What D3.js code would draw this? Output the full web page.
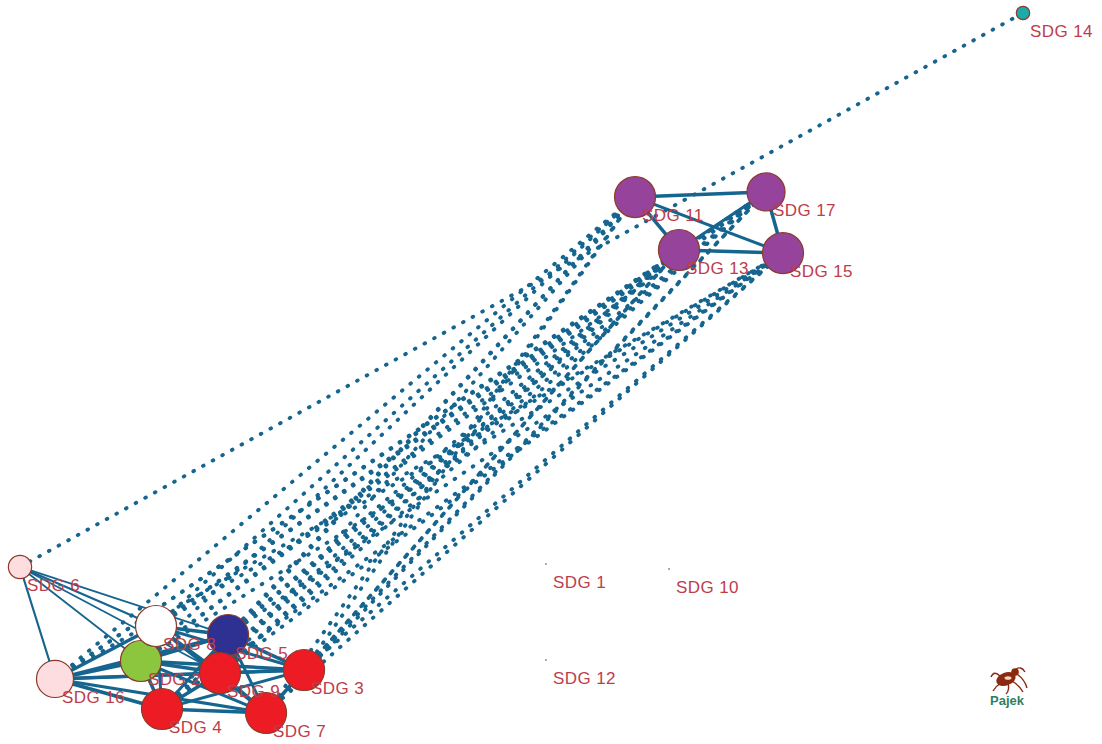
<!DOCTYPE html>
<html lang="en">
<head>
<meta charset="UTF-8">
<title>SDG network</title>
<script src="https://d3js.org/d3.v7.min.js"></script>
<style>
  body { margin: 0; background: #fff; }
  .label { font-family: "Liberation Sans", Arial, sans-serif; font-size: 17px; letter-spacing: 0.4px; fill: #bd3d4b; }
  .logo { font-family: "Liberation Sans", Arial, sans-serif; font-size: 13px; font-weight: bold; fill: #2f7f5f; }
</style>
</head>
<body>
<script>
// vertices (Pajek layout coordinates, 0..1)
const nodeNames = ["SDG 1","SDG 2","SDG 3","SDG 4","SDG 5","SDG 6","SDG 7","SDG 8","SDG 9",
                   "SDG 10","SDG 11","SDG 12","SDG 13","SDG 14","SDG 15","SDG 16","SDG 17"];
const nodeX = [0.5244, 0.1206, 0.2832, 0.1416, 0.2074, 0.0000, 0.2453, 0.1356, 0.1994,
               0.6471, 0.6132, 0.5244, 0.6570, 1.0000, 0.7607, 0.0349, 0.7438];
const nodeY = [0.7871, 0.9257, 0.9386, 0.9943, 0.8886, 0.7914, 1.0000, 0.8757, 0.9429,
               0.7943, 0.2629, 0.9243, 0.3386, 0.0000, 0.3429, 0.9514, 0.2557];
const nodeSize = [0, 20, 20, 20, 20, 11, 20, 20, 20, 0, 20, 0, 20, 6, 20, 18, 18.5];
const nodeClass = ["none","green","red","red","navy","pink","red","white","red",
                   "none","purple","none","purple","teal","purple","pink","purple"];

// edges [from, to, weight]
const solidEdges = [
  [2,3,3.5],[2,4,3.5],[2,5,3.5],[2,7,3],[2,8,3.5],[2,9,3.5],[2,16,3.5],
  [3,4,3],[3,5,3.5],[3,7,3.5],[3,8,3],[3,9,3.5],[3,16,3],
  [4,5,3],[4,7,3.5],[4,8,3],[4,9,3.5],[4,16,3.5],
  [5,7,3],[5,8,3.5],[5,9,3.5],[5,16,3],
  [7,8,3],[7,9,3.5],[7,16,3],
  [8,9,3.5],[8,16,3.5],[9,16,3.5],
  [6,16,2.2],[6,2,1.8],[6,8,2.2],[6,5,1.8],[6,9,1.8],
  [11,17,3.5],[11,13,3.5],[11,15,3],[13,17,3],[13,15,3.5],[17,15,3.5]
];
const dottedEdges = [
  [6,14],
  [16,11],[16,13],[16,15],[16,17],
  [8,11],[8,13],[8,15],[8,17],
  [2,11],[2,13],[2,15],[2,17],
  [5,11],[5,13],[5,15],[5,17],
  [9,11],[9,13],[9,15],[9,17],
  [3,11],[3,13],[3,15],[3,17],
  [4,11],[4,13],[4,15],[4,17],
  [7,11],[7,13],[7,15],[7,17]
];

const W = 1102, H = 744;
const svg = d3.select("body").append("svg").attr("width", W).attr("height", H);

const x = d3.scaleLinear().domain([0, 1]).range([20, 1023]);
const y = d3.scaleLinear().domain([0, 1]).range([13, 713]);
const r = d3.scaleLinear().domain([0, 20]).range([0.8, 20.5]);
const color = d3.scaleOrdinal()
  .domain(["none","green","red","navy","pink","white","purple","teal"])
  .range(["#5a2a1a","#8cc63f","#ed1c24","#2e3192","#fddde0","#ffffff","#96449b","#1aabab"]);

const nodes = nodeNames.map((n, i) => ({ name: n, x: nodeX[i], y: nodeY[i], size: nodeSize[i], cls: nodeClass[i] }));
const byNum = k => nodes[k - 1];
const edgeColor = "#16658f";

// dotted edges between clusters
svg.append("g").selectAll("line")
  .data(dottedEdges)
  .join("line")
  .attr("x1", d => x(byNum(d[0]).x)).attr("y1", d => y(byNum(d[0]).y))
  .attr("x2", d => x(byNum(d[1]).x)).attr("y2", d => y(byNum(d[1]).y))
  .attr("stroke", edgeColor)
  .attr("stroke-width", 3.8)
  .attr("stroke-linecap", "round")
  .attr("stroke-dasharray", "0.8 10.2");

// solid edges
svg.append("g").selectAll("line")
  .data(solidEdges)
  .join("line")
  .attr("x1", d => x(byNum(d[0]).x)).attr("y1", d => y(byNum(d[0]).y))
  .attr("x2", d => x(byNum(d[1]).x)).attr("y2", d => y(byNum(d[1]).y))
  .attr("stroke", edgeColor)
  .attr("stroke-width", d => d[2]);

// vertices with labels, drawn one after another like Pajek
const vg = svg.append("g").selectAll("g")
  .data(nodes)
  .join("g");

vg.append("circle")
  .attr("cx", d => x(d.x)).attr("cy", d => y(d.y))
  .attr("r", d => r(d.size))
  .attr("fill", d => color(d.cls))
  .attr("stroke", d => d.size > 0 ? "#8a3b2b" : "none")
  .attr("stroke-width", 1.2);

vg.append("text")
  .attr("class", "label")
  .attr("x", d => x(d.x) + 7)
  .attr("y", d => y(d.y) + 24)
  .text(d => d.name);

// Pajek logo
const logo = svg.append("g").attr("transform", "translate(1006,679)");
logo.append("ellipse").attr("rx", 10).attr("ry", 6.5).attr("transform", "rotate(-20)").attr("fill", "#8b2a10");
logo.append("ellipse").attr("cx", 2).attr("cy", -1).attr("rx", 3.5).attr("ry", 1.8).attr("fill", "#f3d8c8");
logo.append("circle").attr("cx", 9).attr("cy", -7).attr("r", 3.8).attr("fill", "#8b2a10");
const legs = [[-6,-3,-12,-9,-15,-2],[-4,3,-10,7,-13,12],[2,4,4,11,0,15],[6,2,14,7,17,13],[9,-9,15,-14,19,-7],[11,-5,19,1,21,9]];
logo.selectAll("path.leg").data(legs).join("path")
  .attr("d", d => `M${d[0]},${d[1]} Q${d[2]},${d[3]} ${d[4]},${d[5]}`)
  .attr("fill", "none").attr("stroke", "#8b2a10").attr("stroke-width", 1.4);
svg.append("text").attr("class", "logo")
  .attr("x", 1007).attr("y", 705).attr("text-anchor", "middle").text("Pajek");
</script>
</body>
</html>
